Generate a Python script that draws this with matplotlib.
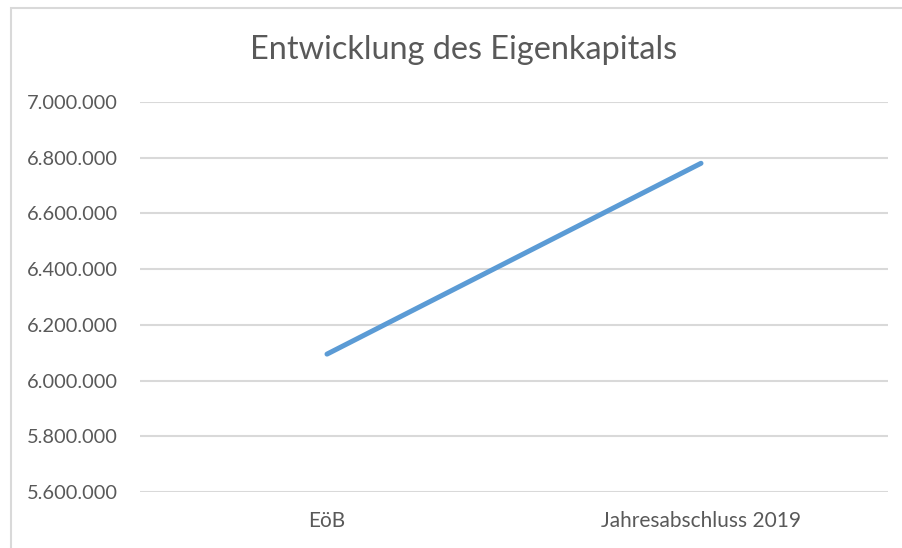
import matplotlib.pyplot as plt
from matplotlib.ticker import FuncFormatter
from matplotlib.patches import Rectangle

# Daten
kategorien = ["EöB", "Jahresabschluss 2019"]
eigenkapital = [6095000, 6780000]
y_ticks = [5600000, 5800000, 6000000, 6200000, 6400000, 6600000, 6800000, 7000000]

W, H = 902, 548
fig = plt.figure(figsize=(W / 100, H / 100), dpi=100)
plt.rcParams["font.family"] = ["Lato", "DejaVu Sans"]

# Rahmen des Diagramms (rechts/unten abgeschnitten)
fig.patches.append(Rectangle((11 / W, -0.1), 1.2, 1 - 8 / H + 0.1,
                             transform=fig.transFigure, fill=False,
                             edgecolor="#d9d9d9", linewidth=1.5))

ax = fig.add_axes([140 / W, 1 - 492 / H, (888 - 140) / W, (492 - 102) / H])
x = list(range(len(kategorien)))
ax.plot(x, eigenkapital, color="#5b9bd5", linewidth=3.6, solid_capstyle="round")

ax.set_xlim(-0.5, len(kategorien) - 0.5)
ax.set_ylim(y_ticks[0], y_ticks[-1])
ax.set_yticks(y_ticks)
ax.yaxis.set_major_formatter(FuncFormatter(lambda v, p: f"{int(v):,}".replace(",", ".")))
ax.set_xticks(x)
ax.set_xticklabels(kategorien)

ax.grid(axis="y", color="#d9d9d9", linewidth=1.5)
ax.set_axisbelow(True)
for s in ax.spines.values():
    s.set_visible(False)
ax.tick_params(length=0, colors="#595959")
ax.tick_params(axis="y", labelsize=14.4, pad=16)
ax.tick_params(axis="x", labelsize=15, pad=14)

fig.text(464 / W, 1 - 50 / H, "Entwicklung des Eigenkapitals", ha="center", va="center",
         fontsize=23.3, color="#595959")

fig.savefig("out.png", dpi=100, facecolor="white")
